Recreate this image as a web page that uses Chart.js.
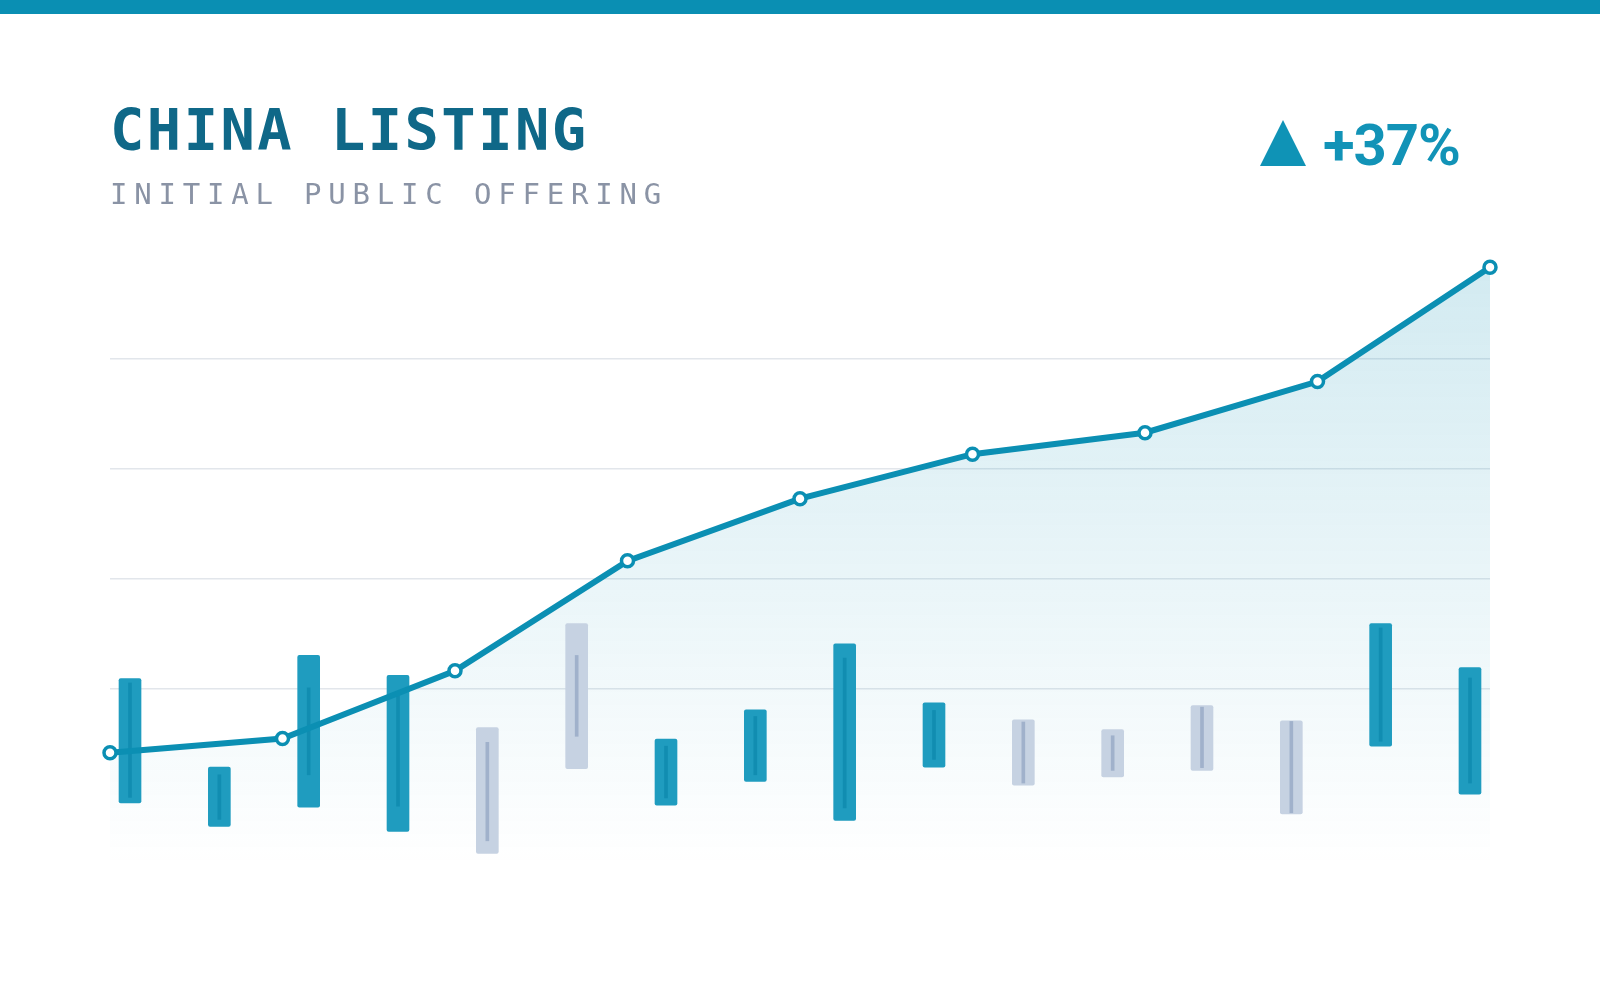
<!DOCTYPE html>
<html>
<head>
<meta charset="utf-8">
<script src="https://cdn.jsdelivr.net/npm/chart.js@4/dist/chart.umd.min.js"></script>
<style>
  html, body { margin: 0; padding: 0; background: #ffffff; }
  #page { position: relative; width: 1600px; height: 1000px; overflow: hidden; background: #ffffff; }
  #topbar { position: absolute; left: 0; top: 0; width: 1600px; height: 14px; background: #0a8fb3; }
  #title { position: absolute; left: 110px; top: 102px; font-family: "DejaVu Sans Mono", monospace; font-weight: bold; font-size: 57px; line-height: 57px; letter-spacing: 2.5px; color: #0f6888; white-space: nowrap; }
  #subtitle { position: absolute; left: 110px; top: 180px; font-family: "DejaVu Sans Mono", monospace; font-size: 29px; line-height: 29px; letter-spacing: 6.8px; color: #8a93a5; white-space: nowrap; }
  #arrow { position: absolute; left: 1260px; top: 120px; width: 0; height: 0; border-left: 23px solid transparent; border-right: 23px solid transparent; border-bottom: 46px solid #0f93b6; }
  #change { position: absolute; right: 140px; top: 116px; font-family: Roboto, sans-serif; font-weight: bold; font-size: 58px; line-height: 58px; letter-spacing: -1px; color: #1293b7; white-space: nowrap; }
  #chartBox { position: absolute; left: 0; top: 0; width: 1600px; height: 1000px; }
</style>
</head>
<body>
<div id="page">
  <div id="topbar"></div>
  <div id="chartBox"><canvas id="ipoChart" width="1600" height="1000"></canvas></div>
  <div id="title">CHINA LISTING</div>
  <div id="subtitle">INITIAL PUBLIC OFFERING</div>
  <div id="arrow"></div>
  <div id="change">+37%</div>
</div>
<script>
// trend line (9 points)
const trendValues = [8.4, 11.0, 23.3, 43.3, 54.6, 62.7, 66.6, 75.9, 96.7];

// candles (16): body open/close and inner range
const candleRising = [true, true, true, true, false, false, true, true, true, true, false, false, false, false, true, true];
const bodyHigh = [21.9, 5.8, 26.1, 22.5, 13.0, 31.9, 10.9, 16.2, 28.2, 17.5, 14.4, 12.6, 17.0, 14.2, 31.9, 23.9];
const bodyLow  = [-0.7, -5.0, -1.5, -5.9, -9.9, 5.5, -1.1, 3.2, -3.9, 5.8, 2.5, 4.0, 5.2, -2.7, 9.6, 0.9];
const innerHigh = [21.1, 4.4, 20.2, 19.0, 10.3, 26.1, 9.6, 15.0, 25.6, 16.1, 14.0, 11.5, 16.7, 14.1, 31.1, 22.0];
const innerLow  = [0.3, -3.7, 4.4, -1.3, -7.6, 11.4, 0.2, 4.4, -1.6, 7.2, 2.9, 5.2, 5.7, -2.5, 10.5, 2.9];

// horizontal guide values
const gridValues = [20, 40, 60, 80];

const lineColor = '#0b8fb3';
const upBody = '#1f9cbf';
const upInner = '#118db1';
const downBody = '#c6d2e2';
const downInner = '#a0b1cb';

const trendData = trendValues.map((v, i) => ({ x: i, y: v }));
const bodyData = bodyHigh.map((h, i) => ({ x: i, y: [bodyLow[i], h] }));
const innerData = innerHigh.map((h, i) => ({ x: i, y: [innerLow[i], h] }));

const ctx = document.getElementById('ipoChart').getContext('2d');

new Chart(ctx, {
    data: {
        datasets: [{
            type: 'line',
            label: 'Listings',
            data: trendData,
            xAxisID: 'x',
            order: 0,
            borderColor: lineColor,
            borderWidth: 6,
            tension: 0,
            pointRadius: 6,
            pointBorderWidth: 3.5,
            pointBackgroundColor: '#ffffff',
            pointBorderColor: lineColor,
            clip: false,
            fill: 'start',
            backgroundColor: function (context) {
                const area = context.chart.chartArea;
                if (!area) return 'rgba(11,143,179,0.1)';
                const g = context.chart.ctx.createLinearGradient(0, area.top, 0, area.bottom - 10);
                g.addColorStop(0, 'rgba(11,143,179,0.19)');
                g.addColorStop(1, 'rgba(11,143,179,0)');
                return g;
            }
        }, {
            type: 'bar',
            label: 'Range',
            data: innerData,
            xAxisID: 'x2',
            order: 1,
            grouped: false,
            barThickness: 3,
            backgroundColor: candleRising.map(up => up ? upInner : downInner),
            borderSkipped: false
        }, {
            type: 'bar',
            label: 'Body',
            data: bodyData,
            xAxisID: 'x2',
            order: 2,
            grouped: false,
            barThickness: 22,
            borderRadius: 2,
            borderSkipped: false,
            backgroundColor: candleRising.map(up => up ? upBody : downBody)
        }]
    },
    options: {
        responsive: false,
        animation: false,
        events: [],
        layout: {
            padding: { left: 110, right: 110, top: 249, bottom: 124 }
        },
        plugins: {
            legend: { display: false },
            tooltip: { enabled: false },
            filler: { drawTime: 'beforeDatasetsDraw' }
        },
        scales: {
            x: {
                type: 'linear',
                min: 0,
                max: 8,
                offset: false,
                display: false
            },
            x2: {
                type: 'linear',
                min: -0.224,
                max: 15.224,
                offset: false,
                display: false
            },
            y: {
                type: 'linear',
                min: -14,
                max: 100,
                afterBuildTicks: function (scale) {
                    scale.ticks = gridValues.map(v => ({ value: v }));
                },
                ticks: { display: false },
                border: { display: false },
                grid: {
                    color: '#e2e6eb',
                    lineWidth: 1.5,
                    drawTicks: false
                }
            }
        }
    }
});
</script>
</body>
</html>
